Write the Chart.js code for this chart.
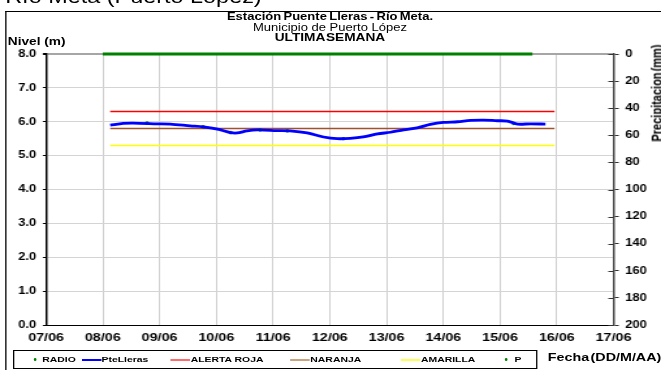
<!DOCTYPE html>
<html>
<head>
<meta charset="utf-8">
<script src="https://cdn.jsdelivr.net/npm/chart.js@4"></script>
<style>
  html, body { margin: 0; padding: 0; background: #fff; overflow: hidden; }
  /* the reference is stretched sideways, so the page is laid out narrow and scaled */
  #page { position: absolute; left: 0; top: 0; width: 508px; height: 370px;
          transform-origin: 0 0; transform: scaleX(1.3012);
          font-family: Arial, "Liberation Sans", sans-serif; color: #000; }
  .abs { position: absolute; white-space: nowrap; }
  #frame { left: 3.8px; top: 11px; width: 600px; height: 400px;
           border-left: 1.5px solid #000; border-top: 1.5px solid #000; }
  #chart { position: absolute; left: 0; top: 0; }
  .ttl { left: 253.6px; transform: translateX(-50%); font-size: 10px; line-height: 11px; }
  #legend { left: 9.5px; top: 350px; width: 401px; height: 17px; border: 1px solid #000; background: #fff; }
  #legend span { position: absolute; top: 4px; font-size: 8px; font-weight: bold; line-height: 9px; }
  #legend i { position: absolute; display: block; }
  .dot { top: 7px; width: 2.5px; height: 3px; background: #008000; border-radius: 50%; }
  .ln { top: 7.5px; width: 15px; height: 2.5px; }
</style>
</head>
<body>
<div id="page">
  <div class="abs" style="left:4px; top:-13px; font-size:18px; line-height:20px;">Río Meta (Puerto López)</div>
  <div id="frame" class="abs"></div>
  <canvas id="chart" width="508" height="370"></canvas>

  <div class="abs ttl" style="top:11px; font-weight:bold; word-spacing:-1px;">Estación Puente Lleras - Río Meta.</div>
  <div class="abs ttl" style="top:22px;">Municipio de Puerto López</div>
  <div class="abs ttl" style="top:32px; font-size:10.5px; font-weight:bold; word-spacing:-2px;">ULTIMA SEMANA</div>
  <div class="abs" style="left:6px; top:36px; font-size:10.5px; line-height:11px; font-weight:bold;">Nivel (m)</div>
  <div class="abs" style="left:505px; top:93px; font-size:11px; line-height:11px; font-weight:bold; word-spacing:-2px; transform:translate(-50%,-50%) rotate(-90deg);">Precipitacion (mm)</div>
  <div class="abs" style="left:421px; top:352px; font-size:11px; line-height:11px; font-weight:bold; word-spacing:-2px;">Fecha (DD/M/AA)</div>

  <div id="legend" class="abs">
    <i class="dot" style="left:15px;"></i><span style="left:22px;">RADIO</span>
    <i class="ln" style="left:52px; background:#0000ff;"></i><span style="left:67.5px;">PteLleras</span>
    <i class="ln" style="left:120px; background:#ff6a6a;"></i><span style="left:136px;">ALERTA ROJA</span>
    <i class="ln" style="left:212px; background:#c9a27e;"></i><span style="left:228px;">NARANJA</span>
    <i class="ln" style="left:297px; background:#ffff50;"></i><span style="left:313px;">AMARILLA</span>
    <i class="dot" style="left:377px;"></i><span style="left:385px;">P</span>
  </div>
</div>

<script>
// days counted from 07/06 00:00
const xLabels = ['07/06', '08/06', '09/06', '10/06', '11/06', '12/06', '13/06', '14/06', '15/06', '16/06', '17/06'];

// PteLleras level (m)
const levelDays = [1.13, 1.36, 1.53, 1.96, 2.19, 2.54, 2.77, 3.02, 3.25, 3.37, 3.54, 3.72, 4.07, 4.30, 4.60, 4.89, 5.13,
    5.36, 5.59, 5.84, 6.07, 6.30, 6.54, 6.77, 7.00, 7.25, 7.48, 7.71, 7.95, 8.13, 8.31, 8.54, 8.80];
const levelValues = [5.90, 5.95, 5.96, 5.94, 5.93, 5.88, 5.85, 5.78, 5.68, 5.67, 5.73, 5.76, 5.74, 5.73, 5.67, 5.55, 5.50,
    5.51, 5.55, 5.64, 5.69, 5.76, 5.82, 5.92, 5.98, 6.00, 6.04, 6.05, 6.03, 6.02, 5.93, 5.94, 5.93];

// RADIO readings (mostly hidden under the blue line)
const radioDays = [1.78, 2.77, 3.25, 3.77, 4.25, 5.24, 8.24];
const radioValues = [5.96, 5.85, 5.68, 5.76, 5.73, 5.50, 5.95];

// alert thresholds
const alertDays = [1.13, 8.96];
const rojaValues = [6.3, 6.3];
const naranjaValues = [5.8, 5.8];
const amarillaValues = [5.3, 5.3];

// precipitation (mm, right axis)
const pDays = [1.0, 8.57];
const pValues = [0, 0];

function pts(xs, ys) {
    return xs.map((x, i) => ({ x: x, y: ys[i] }));
}

const tickFont = { family: 'Arial, "Liberation Sans", sans-serif', weight: 'bold', size: 10 };

// right axis ticks cross the axis line
const crossTicks = {
    id: 'crossTicks',
    afterDraw(chart) {
        const s = chart.scales.y1;
        const ctx = chart.ctx;
        ctx.save();
        ctx.strokeStyle = '#333';
        ctx.lineWidth = 1;
        s.ticks.forEach(t => {
            const y = Math.round(s.getPixelForValue(t.value)) + 0.5;
            ctx.beginPath();
            ctx.moveTo(s.left - 4, y);
            ctx.lineTo(s.left, y);
            ctx.stroke();
        });
        ctx.restore();
    }
};

const config = {
    type: 'line',
    data: {
        datasets: [
            { label: 'PteLleras', data: pts(levelDays, levelValues), borderColor: '#0000ff', borderWidth: 2.8,
              pointRadius: 0, tension: 0.3, yAxisID: 'y' },
            { label: 'RADIO', data: pts(radioDays, radioValues), borderColor: '#008000', backgroundColor: '#008000',
              showLine: false, pointRadius: 1.3, yAxisID: 'y' },
            { label: 'ALERTA ROJA', data: pts(alertDays, rojaValues), borderColor: '#ff0000', borderWidth: 1.5,
              pointRadius: 0, yAxisID: 'y' },
            { label: 'NARANJA', data: pts(alertDays, naranjaValues), borderColor: '#a0522d', borderWidth: 1.5,
              pointRadius: 0, yAxisID: 'y' },
            { label: 'AMARILLA', data: pts(alertDays, amarillaValues), borderColor: '#ffff00', borderWidth: 1.5,
              pointRadius: 0, yAxisID: 'y' },
            { label: 'P', data: pts(pDays, pValues), borderColor: '#008000', borderWidth: 3,
              pointRadius: 0, yAxisID: 'y1', clip: 4 }
        ]
    },
    options: {
        responsive: false,
        animation: false,
        layout: { padding: { top: 54, left: 0, right: 0, bottom: 0 } },
        plugins: { legend: { display: false }, tooltip: { enabled: false } },
        scales: {
            x: {
                type: 'linear', min: 0, max: 10,
                afterFit: s => { s.height = 45; },
                ticks: { stepSize: 1, padding: 6, color: '#000', font: { ...tickFont, size: 11 },
                         maxRotation: 0, callback: v => xLabels[v] },
                grid: { color: '#cfcfcf', lineWidth: 1, drawTicks: false },
                border: { color: '#000', width: 1 }
            },
            y: {
                position: 'left', min: 0, max: 8,
                afterFit: s => { s.width = 35.4; },
                ticks: { stepSize: 1, padding: 5, color: '#000', font: tickFont, callback: v => v.toFixed(1) },
                grid: {
                    color: c => c.tick && c.tick.value === 8 ? '#a6a6a6' : '#d4d4d4',
                    lineWidth: c => c.tick && c.tick.value === 8 ? 2 : 1,
                    tickColor: '#000', tickLength: 2.5
                },
                border: { color: '#000', width: 1.5 }
            },
            y1: {
                position: 'right', min: 0, max: 200, reverse: true,
                afterFit: s => { s.width = 36.5; },
                ticks: { stepSize: 20, padding: 5, color: '#000', font: tickFont },
                grid: { drawOnChartArea: false, tickColor: '#333', tickLength: 4 },
                border: { color: '#444', width: 1.5 }
            }
        }
    },
    plugins: [crossTicks]
};

function initChart() {
    const canvas = document.getElementById('chart');
    new Chart(canvas.getContext('2d'), config);
}

if (document.readyState === 'loading') {
    document.addEventListener('DOMContentLoaded', initChart);
} else {
    initChart();
}
</script>
</body>
</html>
